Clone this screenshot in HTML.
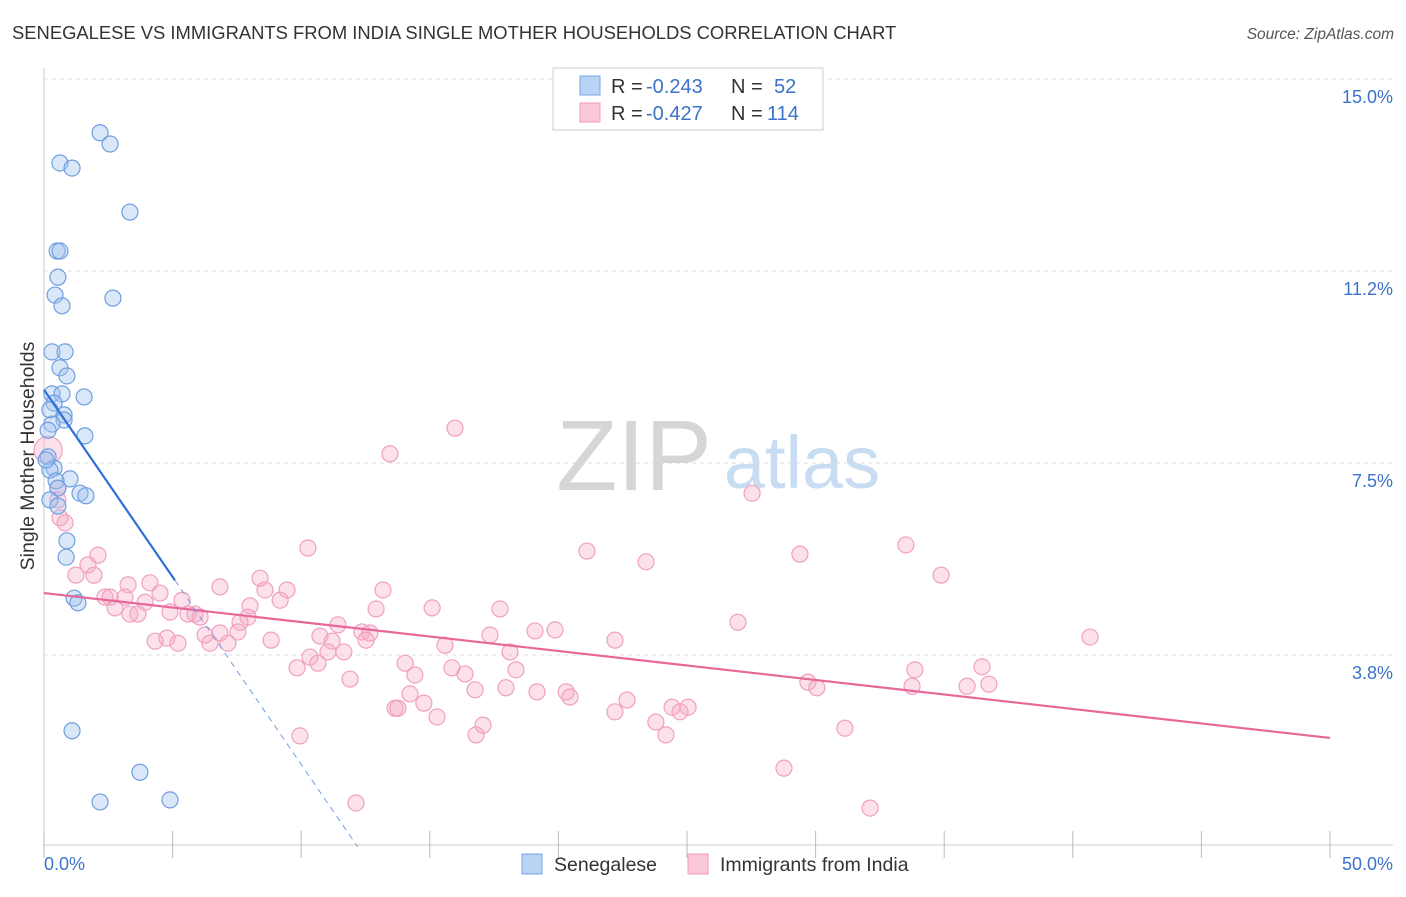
<!DOCTYPE html>
<html><head><meta charset="utf-8"><style>
body{margin:0;background:#fff;font-family:"Liberation Sans",sans-serif}
svg text{font-family:"Liberation Sans",sans-serif}
</style></head><body>
<svg id="chart" width="1406" height="892" xmlns="http://www.w3.org/2000/svg">
<text x="12" y="39" font-size="18.4" fill="#333">SENEGALESE VS IMMIGRANTS FROM INDIA SINGLE MOTHER HOUSEHOLDS CORRELATION CHART</text>
<text x="1394" y="39" font-size="15.5" fill="#555" font-style="italic" text-anchor="end">Source: ZipAtlas.com</text>
<g id="grid"></g>
<g>
<text x="634" y="490" font-size="100" fill="#d6d6d6" text-anchor="middle" font-family="Liberation Serif,serif">ZIP</text>
<text x="802" y="488" font-size="74" fill="#c8dcf2" text-anchor="middle">atlas</text>
</g>
<g id="axes"></g>
<g id="marks"></g>
<text transform="translate(34,456) rotate(-90)" font-size="19.5" fill="#333" text-anchor="middle">Single Mother Households</text>
<g>
<rect x="553" y="68" width="270" height="62" fill="#fff" stroke="#ccc"/>
<rect x="580" y="76" width="20" height="19" fill="#b9d3f5" stroke="#7aa6e0"/>
<rect x="580" y="103" width="20" height="19" fill="#fbc9d9" stroke="#f09ab8"/>
<text x="611" y="93" font-size="20" fill="#333">R =</text>
<text x="646" y="93" font-size="20" fill="#3a73c9">-0.243</text>
<text x="731" y="93" font-size="20" fill="#333">N =</text>
<text x="774" y="93" font-size="20" fill="#3a73c9">52</text>
<text x="611" y="120" font-size="20" fill="#333">R =</text>
<text x="646" y="120" font-size="20" fill="#3a73c9">-0.427</text>
<text x="731" y="120" font-size="20" fill="#333">N =</text>
<text x="767" y="120" font-size="20" fill="#3a73c9">114</text>
</g>
<g>
<rect x="522" y="854" width="20" height="20" fill="#b9d3f5" stroke="#7aa6e0"/>
<text x="554" y="871" font-size="19.5" fill="#333">Senegalese</text>
<rect x="688" y="854" width="20" height="20" fill="#fbc9d9" stroke="#f09ab8"/>
<text x="720" y="871" font-size="19.5" fill="#333">Immigrants from India</text>
</g>
</svg>
<script>
const blueX=[2.18,2.57,0.62,1.09,3.34,0.51,0.62,0.54,0.43,0.70,2.68,0.31,0.82,0.62,0.89,0.31,0.70,1.56,0.39,0.78,0.78,0.31,1.59,0.16,0.39,0.23,1.01,0.47,0.54,1.40,1.63,0.23,0.54,0.89,0.86,1.17,1.32,1.09,3.73,2.18,4.90,0.16,0.08,0.23];
const blueY=[13.95,13.73,13.36,13.26,12.40,11.64,11.64,11.13,10.78,10.57,10.72,9.67,9.67,9.36,9.20,8.85,8.85,8.79,8.67,8.44,8.34,8.26,8.03,7.62,7.40,7.36,7.19,7.15,7.01,6.91,6.86,6.78,6.66,5.98,5.66,4.86,4.77,2.27,1.46,0.88,0.92,8.14,7.56,8.54];
const pinkX=[15.98,13.45,27.53,10.26,21.11,23.41,29.39,33.51,34.88,2.10,1.71,1.24,1.94,3.27,4.12,4.51,6.84,8.40,8.59,9.45,9.18,13.18,2.37,2.57,3.15,2.76,3.93,5.37,4.90,5.60,5.87,6.07,8.01,12.91,15.09,17.73,3.34,3.65,7.93,7.62,11.43,6.84,4.32,4.78,5.21,6.26,6.45,7.15,7.54,8.83,10.73,11.20,12.36,12.67,12.52,15.59,17.34,19.09,19.87,22.20,26.98,40.67,9.84,10.34,10.65,11.04,11.66,11.90,14.04,14.42,15.86,16.37,18.12,18.35,14.23,13.65,13.76,14.77,15.28,16.76,17.96,19.17,20.30,20.45,22.67,22.20,23.79,24.42,24.73,25.04,24.18,17.07,16.80,9.95,29.70,30.05,31.14,33.86,33.75,35.89,36.47,36.74,28.77,12.13,32.12,0.62,0.82,0.54,0.16,0.54];
const pinkY=[8.18,7.68,6.91,5.84,5.78,5.57,5.72,5.90,5.31,5.70,5.51,5.31,5.31,5.12,5.16,4.96,5.08,5.25,5.02,5.02,4.82,5.02,4.88,4.88,4.88,4.67,4.78,4.82,4.59,4.55,4.55,4.49,4.71,4.65,4.67,4.65,4.55,4.55,4.49,4.39,4.34,4.18,4.02,4.08,3.98,4.14,3.98,3.98,4.20,4.04,4.12,4.02,4.20,4.18,4.04,3.94,4.14,4.22,4.24,4.04,4.39,4.10,3.50,3.71,3.59,3.81,3.81,3.28,3.59,3.36,3.50,3.38,3.81,3.46,2.99,2.71,2.71,2.81,2.54,3.07,3.11,3.03,3.03,2.93,2.87,2.64,2.44,2.73,2.64,2.73,2.19,2.38,2.19,2.17,3.22,3.11,2.32,3.46,3.14,3.14,3.52,3.18,1.54,0.86,0.76,6.43,6.33,6.78,7.75,7.01];
const yTicks=[3.75,7.5,11.25,15];
const yTickLabels=["3.8%","7.5%","11.2%","15.0%"];
const xTicks=[0,5,10,15,20,25,30,35,40,45,50];
const pinkTrend=[4.96,2.13];
const blueTrend=[8.93,5.21];
const blueTrendEnd=[5.09,12.2];

const NS="http://www.w3.org/2000/svg";
const X=v=>44+v*25.72, Y=v=>847-v*51.2;
function mk(p,t,a){const e=document.createElementNS(NS,t);for(const k in a)e.setAttribute(k,a[k]);p.appendChild(e);return e;}
const grid=document.getElementById('grid'),axes=document.getElementById('axes'),marks=document.getElementById('marks');
yTicks.forEach((t,i)=>{
 const l=mk(grid,'line',{x1:44,x2:1393,y1:Y(t),y2:Y(t),stroke:'#ddd','stroke-dasharray':'4,4'});
 
 
 const tx=mk(axes,'text',{x:1393,y:Y(t)+24,'font-size':18,fill:'#3a73c9','text-anchor':'end'});tx.textContent=yTickLabels[i];
 
 
});
mk(axes,'line',{x1:44,x2:44,y1:68,y2:845,stroke:'#ccc'});
mk(axes,'line',{x1:44,x2:1393,y1:845,y2:845,stroke:'#ccc'});
xTicks.forEach(t=>{
 const l=mk(axes,'line',{x1:X(t),x2:X(t),y1:831,y2:858,stroke:'#bbb'});
 
 
});
const x0=mk(axes,'text',{x:44,y:870,'font-size':18,fill:'#3a73c9'});x0.textContent='0.0%';


const x1=mk(axes,'text',{x:1393,y:870,'font-size':18,fill:'#3a73c9','text-anchor':'end'});x1.textContent='50.0%';


pinkX.forEach((v,i)=>{
 const big=(i===pinkX.length-2);
 const c=mk(marks,'circle',{cx:X(v),cy:Y(pinkY[i]),r:big?14:8,fill:'rgba(246,170,198,0.35)',stroke:'#f0a0bd','stroke-width':1.2});
 
 
});
blueX.forEach((v,i)=>{
 const c=mk(marks,'circle',{cx:X(v),cy:Y(blueY[i]),r:8,fill:'rgba(160,196,240,0.4)',stroke:'#6f9fe0','stroke-width':1.2});
 
 
});
const pt=mk(marks,'line',{x1:X(0),y1:Y(pinkTrend[0]),x2:X(50),y2:Y(pinkTrend[1]),stroke:'#e8679a','stroke-width':2.2});


const bt=mk(marks,'line',{x1:X(0),y1:Y(blueTrend[0]),x2:X(blueTrendEnd[0]),y2:Y(blueTrend[1]),stroke:'#2f6fd6','stroke-width':2.2});


const bd=mk(marks,'line',{x1:X(blueTrendEnd[0]),y1:Y(blueTrend[1]),x2:X(blueTrendEnd[1]),y2:Y(0),stroke:'#6f9fe0','stroke-width':1,'stroke-dasharray':'6,5'});


</script>
</body></html>
